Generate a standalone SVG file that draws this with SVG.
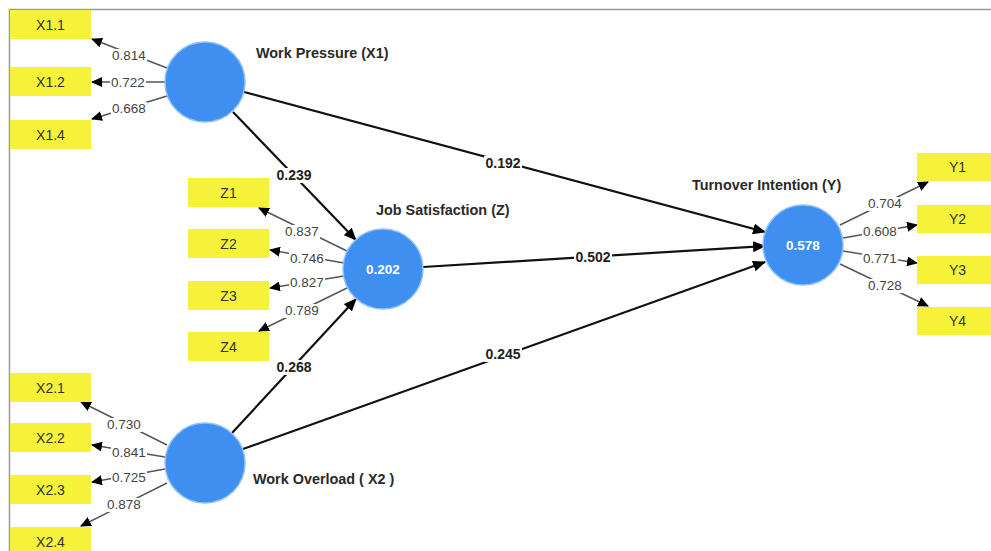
<svg xmlns="http://www.w3.org/2000/svg" width="991" height="551" viewBox="0 0 991 551">
<style>
.bg{fill:#ffffff}
.frame{stroke:#9a9a9a;stroke-width:1.5;fill:none}
.box{fill:#f6f23a}
.boxt{font-family:"Liberation Sans",Arial,sans-serif;font-size:14px;fill:#333;text-anchor:middle}
.lv{fill:#3e8ff0;stroke:#8cc0f8;stroke-width:1.5}
.lvv{font-family:"Liberation Sans",Arial,sans-serif;font-size:13.5px;font-weight:bold;fill:#ffffff;text-anchor:middle}
.name{font-family:"Liberation Sans",Arial,sans-serif;font-size:14.4px;font-weight:bold;fill:#2a2a2a}
.ld{stroke:#555;stroke-width:1.4;fill:none;marker-end:url(#sa)}
.pth{stroke:#111;stroke-width:2.2;fill:none;marker-end:url(#la)}
.lbg{fill:#ffffff}
.ldt{font-family:"Liberation Sans",Arial,sans-serif;font-size:13.5px;fill:#444;text-anchor:middle}
.pt{font-family:"Liberation Sans",Arial,sans-serif;font-size:14px;font-weight:bold;fill:#222;text-anchor:middle}
</style>
<defs>
<marker id="sa" viewBox="0 0 11 10" refX="10" refY="5" markerWidth="11" markerHeight="10" markerUnits="userSpaceOnUse" orient="auto"><path d="M0,0 L11,5 L0,10 z" fill="#000"/></marker>
<marker id="la" viewBox="0 0 13 11" refX="12" refY="5.5" markerWidth="13" markerHeight="11" markerUnits="userSpaceOnUse" orient="auto"><path d="M0,0 L13,5.5 L0,11 z" fill="#000"/></marker>
</defs>
<rect class="bg" x="0" y="0" width="991" height="551"/>
<path class="frame" d="M9.5,551 V9.5 H991"/>

<g id="connectors">
  <line class="ld" x1="167" y1="68" x2="92" y2="39"/>
  <line class="ld" x1="165" y1="82" x2="92" y2="82"/>
  <line class="ld" x1="167" y1="96" x2="92" y2="119"/>
  <line class="ld" x1="347" y1="251" x2="259" y2="208"/>
  <line class="ld" x1="344" y1="263" x2="270" y2="250"/>
  <line class="ld" x1="344" y1="276" x2="270" y2="288"/>
  <line class="ld" x1="347" y1="288" x2="259" y2="331"/>
  <line class="ld" x1="167" y1="445" x2="81" y2="402"/>
  <line class="ld" x1="165" y1="457" x2="92" y2="445"/>
  <line class="ld" x1="165" y1="469" x2="92" y2="482"/>
  <line class="ld" x1="167" y1="483" x2="81" y2="526"/>
  <line class="ld" x1="840" y1="225" x2="928" y2="182"/>
  <line class="ld" x1="843" y1="238" x2="917" y2="225"/>
  <line class="ld" x1="843" y1="251" x2="917" y2="263"/>
  <line class="ld" x1="840" y1="264" x2="928" y2="306"/>
  <line class="pth" x1="233" y1="112" x2="356" y2="240"/>
  <line class="pth" x1="232" y1="433" x2="356" y2="299"/>
  <line class="pth" x1="244" y1="92" x2="765" y2="232"/>
  <line class="pth" x1="423" y1="267" x2="765" y2="246"/>
  <line class="pth" x1="243" y1="449" x2="765" y2="262"/>
  <g>
    <rect class="lbg" x="111" y="49" width="36" height="14"/><text class="ldt" x="129" y="60">0.814</text>
    <rect class="lbg" x="110" y="76" width="36" height="14"/><text class="ldt" x="128" y="87">0.722</text>
    <rect class="lbg" x="111" y="102" width="36" height="14"/><text class="ldt" x="129" y="113">0.668</text>
    <rect class="lbg" x="284" y="225" width="36" height="14"/><text class="ldt" x="302" y="236">0.837</text>
    <rect class="lbg" x="289" y="252" width="36" height="14"/><text class="ldt" x="307" y="263">0.746</text>
    <rect class="lbg" x="289" y="276" width="36" height="14"/><text class="ldt" x="307" y="287">0.827</text>
    <rect class="lbg" x="284" y="304" width="36" height="14"/><text class="ldt" x="302" y="315">0.789</text>
    <rect class="lbg" x="106" y="418" width="36" height="14"/><text class="ldt" x="124" y="429">0.730</text>
    <rect class="lbg" x="111" y="446" width="36" height="14"/><text class="ldt" x="129" y="457">0.841</text>
    <rect class="lbg" x="111" y="471" width="36" height="14"/><text class="ldt" x="129" y="482">0.725</text>
    <rect class="lbg" x="106" y="498" width="36" height="14"/><text class="ldt" x="124" y="509">0.878</text>
    <rect class="lbg" x="867" y="197" width="36" height="14"/><text class="ldt" x="885" y="208">0.704</text>
    <rect class="lbg" x="862" y="225" width="36" height="14"/><text class="ldt" x="880" y="236">0.608</text>
    <rect class="lbg" x="862" y="252" width="36" height="14"/><text class="ldt" x="880" y="263">0.771</text>
    <rect class="lbg" x="867" y="279" width="36" height="14"/><text class="ldt" x="885" y="290">0.728</text>
    <rect class="lbg" x="275" y="168" width="38" height="15"/><text class="pt" x="294" y="180">0.239</text>
    <rect class="lbg" x="275" y="360" width="38" height="15"/><text class="pt" x="294" y="372">0.268</text>
    <rect class="lbg" x="484" y="156" width="38" height="15"/><text class="pt" x="503" y="168">0.192</text>
    <rect class="lbg" x="574" y="250" width="38" height="15"/><text class="pt" x="593" y="262">0.502</text>
    <rect class="lbg" x="484" y="347" width="38" height="15"/><text class="pt" x="503" y="359">0.245</text>
  </g>
</g>

<g id="X1">
  <circle class="lv" cx="205" cy="82" r="40"/>
  <text class="name" x="256" y="58">Work Pressure (X1)</text>
</g>
<g id="Z">
  <circle class="lv" cx="383" cy="269" r="40"/>
  <text class="lvv" x="383" y="274">0.202</text>
  <text class="name" x="376" y="215">Job Satisfaction (Z)</text>
</g>
<g id="X2">
  <circle class="lv" cx="205" cy="463" r="40"/>
  <text class="name" x="253" y="484">Work Overload ( X2 )</text>
</g>
<g id="Y">
  <circle class="lv" cx="803" cy="245" r="40"/>
  <text class="lvv" x="803" y="250">0.578</text>
  <text class="name" x="692" y="190">Turnover Intention (Y)</text>
</g>

<g id="X1.1"><rect class="box" x="10" y="10" width="81" height="29"/><text class="boxt" x="50.5" y="30">X1.1</text></g>
<g id="X1.2"><rect class="box" x="10" y="67" width="81" height="29"/><text class="boxt" x="50.5" y="87">X1.2</text></g>
<g id="X1.4"><rect class="box" x="10" y="120" width="81" height="29"/><text class="boxt" x="50.5" y="140">X1.4</text></g>
<g id="Z1"><rect class="box" x="188" y="178" width="81" height="29"/><text class="boxt" x="228.5" y="198">Z1</text></g>
<g id="Z2"><rect class="box" x="188" y="229" width="81" height="29"/><text class="boxt" x="228.5" y="249">Z2</text></g>
<g id="Z3"><rect class="box" x="188" y="281" width="81" height="29"/><text class="boxt" x="228.5" y="301">Z3</text></g>
<g id="Z4"><rect class="box" x="188" y="332" width="81" height="29"/><text class="boxt" x="228.5" y="352">Z4</text></g>
<g id="X2.1"><rect class="box" x="10" y="373" width="81" height="29"/><text class="boxt" x="50.5" y="393">X2.1</text></g>
<g id="X2.2"><rect class="box" x="10" y="423" width="81" height="29"/><text class="boxt" x="50.5" y="443">X2.2</text></g>
<g id="X2.3"><rect class="box" x="10" y="475" width="81" height="29"/><text class="boxt" x="50.5" y="495">X2.3</text></g>
<g id="X2.4"><rect class="box" x="10" y="527" width="81" height="29"/><text class="boxt" x="50.5" y="547">X2.4</text></g>
<g id="Y1"><rect class="box" x="917" y="153" width="81" height="28"/><text class="boxt" x="957.5" y="172">Y1</text></g>
<g id="Y2"><rect class="box" x="917" y="205" width="81" height="28"/><text class="boxt" x="957.5" y="224">Y2</text></g>
<g id="Y3"><rect class="box" x="917" y="256" width="81" height="28"/><text class="boxt" x="957.5" y="275">Y3</text></g>
<g id="Y4"><rect class="box" x="917" y="307" width="81" height="28"/><text class="boxt" x="957.5" y="326">Y4</text></g>
</svg>
